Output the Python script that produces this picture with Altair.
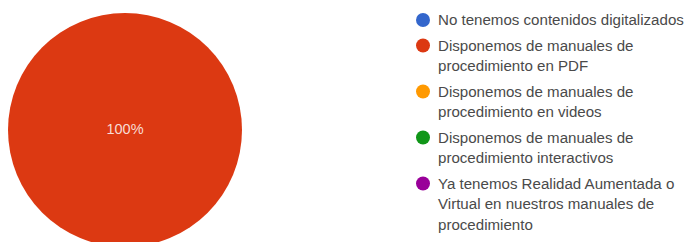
import altair as alt
import pandas as pd

categories = [
    "No tenemos contenidos digitalizados",
    "Disponemos de manuales de procedimiento en PDF",
    "Disponemos de manuales de procedimiento en videos",
    "Disponemos de manuales de procedimiento interactivos",
    "Ya tenemos Realidad Aumentada o Virtual en nuestros manuales de procedimiento",
]
legend_lines = [
    ["No tenemos contenidos digitalizados"],
    ["Disponemos de manuales de", "procedimiento en PDF"],
    ["Disponemos de manuales de", "procedimiento en videos"],
    ["Disponemos de manuales de", "procedimiento interactivos"],
    ["Ya tenemos Realidad Aumentada o", "Virtual en nuestros manuales de", "procedimiento"],
]
values = [0, 100, 0, 0, 0]
colors = ["#3366cc", "#dc3912", "#ff9900", "#109618", "#990099"]

W, H = 677, 234
CX, CY, R = 117, 122, 117
LINE = 20.5
GAP = 5.0
TOP = 12
FONT = "Liberation Sans"

pie_df = pd.DataFrame({"category": categories, "value": values, "order": list(range(len(categories)))})

rows = []
g = 0
for i, (cat, lines) in enumerate(zip(categories, legend_lines)):
    for j, t in enumerate(lines):
        rows.append({"category": cat, "text": t, "slot": g + i * GAP / LINE, "first": j == 0})
        g += 1
leg_df = pd.DataFrame(rows)

color_scale = alt.Scale(domain=categories, range=colors)
yscale = alt.Scale(domain=[0, 1], range=[TOP, TOP + LINE])

arc = alt.Chart(pie_df).mark_arc(outerRadius=R).encode(
    theta=alt.Theta("value:Q", stack=True),
    order=alt.Order("order:Q"),
    color=alt.Color("category:N", scale=color_scale, legend=None),
    x=alt.value(CX),
    y=alt.value(CY),
)

pct = alt.Chart(pie_df).transform_joinaggregate(
    total="sum(value)"
).transform_calculate(
    pct="round(datum.value / datum.total * 100) + '%'"
).transform_filter("datum.value > 0").mark_text(
    font=FONT, fontSize=14.5, color="#f8ddd5"
).encode(
    text="pct:N",
    x=alt.value(CX),
    y=alt.value(CY),
)

sym = alt.Chart(leg_df).transform_filter("datum.first").mark_point(
    shape="circle", filled=True, size=195, opacity=1
).encode(
    y=alt.Y("slot:Q", scale=yscale, axis=None),
    x=alt.value(415),
    color=alt.Color("category:N", scale=color_scale, legend=None),
)

txt = alt.Chart(leg_df).mark_text(
    align="left", baseline="middle", font=FONT, fontSize=15.1, color="#4a4a4a"
).encode(
    y=alt.Y("slot:Q", scale=yscale, axis=None),
    x=alt.value(430),
    text="text:N",
)

chart = alt.layer(arc, pct, sym, txt).properties(
    width=W, height=H, padding=0, autosize=alt.AutoSizeParams(type="none")
).configure_view(stroke=None)

chart.save("out.html", embed_options={"renderer": "svg", "actions": False})
